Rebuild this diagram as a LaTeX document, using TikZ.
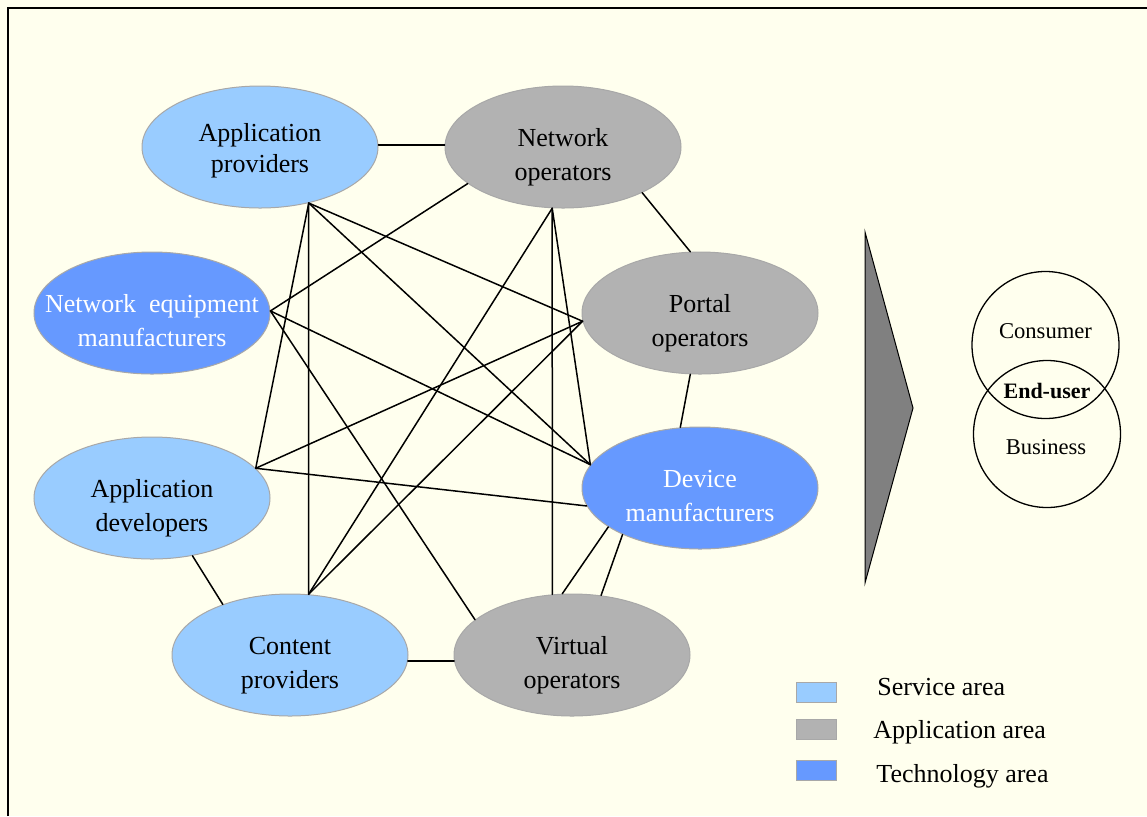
\documentclass[tikz,border=0pt]{standalone}
\usepackage{fontspec}
\setmainfont{Liberation Serif}
\usetikzlibrary{shapes.geometric}

\definecolor{paper}{HTML}{FFFFEE}
\definecolor{svcblue}{HTML}{99CCFF}
\definecolor{appgray}{HTML}{B2B2B2}
\definecolor{techblue}{HTML}{6699FF}
\definecolor{rim}{HTML}{A8A8A8}
\definecolor{wedge}{HTML}{808080}

\begin{document}
\begin{tikzpicture}[x=0.5pt,y=-0.5pt,
  actor/.style={ellipse,draw=rim,line width=0.5pt,minimum width=118pt,
    minimum height=61pt,inner sep=0pt},
  svc/.style={actor,fill=svcblue},
  appl/.style={actor,fill=appgray},
  tech/.style={actor,fill=techblue},
  caption/.style={align=center,inner sep=0pt,font=\fontsize{13}{17}\selectfont},
  lowered/.style={caption,yshift=-4.8pt},
  link/.style={line width=0.75pt,line cap=round},
  swatch/.style={rectangle,draw=rim,line width=0.5pt,minimum width=20pt,
    minimum height=10pt,inner sep=0pt},
  keytext/.style={anchor=base west,inner sep=0pt,font=\fontsize{13}{15}\selectfont},
  market/.style={circle,draw=black,line width=0.65pt,minimum size=73.5pt,inner sep=0pt},
  marketlabel/.style={anchor=base,inner sep=0pt,font=\fontsize{11.3}{13}\selectfont}
]
% page and frame
\fill[paper] (0,0) rectangle (1147,816);
\useasboundingbox (0,0) rectangle (1147,816);
\draw[line width=1pt] (7.7,816) -- (7.7,7.7) -- (1147,7.7);

% value-network actors
\node[svc]  (ap)  at (260,147) {};
\node[appl] (no)  at (563,147) {};
\node[tech] (nem) at (152,313) {};
\node[appl] (po)  at (700,313) {};
\node[svc]  (ad)  at (152,498) {};
\node[tech] (dm)  at (700,488) {};
\node[svc]  (cp)  at (290,655) {};
\node[appl] (vo)  at (572,655) {};

\node[caption,font=\fontsize{13}{15.5}\selectfont,yshift=-1.65pt] (ap-txt) at (ap.center)
  {\strut Application\\providers\strut};
\node[lowered] (no-txt) at (no.center) {\strut Network\\operators\strut};
\node[lowered,text=white] (nem-txt) at (nem.center)
  {\strut Network\ \ equipment\\manufacturers\strut};
\node[lowered] (po-txt) at (po.center) {\strut Portal\\operators\strut};
\node[lowered] (ad-txt) at (ad.center) {\strut Application\\developers\strut};
\node[lowered,text=white] (dm-txt) at (dm.center) {\strut Device\\manufacturers\strut};
\node[lowered] (cp-txt) at (cp.center) {\strut Content\\providers\strut};
\node[lowered] (vo-txt) at (vo.center) {\strut Virtual\\operators\strut};

% links around the ring
\draw[link] (ap.1) -- (no.179);
\draw[link] (no.-30.9) -- (po.99.3);
\draw[link] (po.-99.3) -- (dm.108.4);
\draw[link] (ad.-55.4) -- (cp.143.9);
\draw[link] (cp.-3) -- (vo.-177);
\draw[link] (dm.-157.4) -- (vo.99.3);
\draw[link] (dm.-149.2) -- (vo.64.6);

% links across the ring
\draw[link] (ap.-49.4) -- (ad.16.5);
\draw[link] (ap.-49.4) -- (cp.73);
\draw[link] (ap.-49.4) -- (dm.168.6);
\draw[link] (ap.-49.4) -- (po.-176.6);
\draw[link] (no.-100.2) -- (vo.108.4);
\draw[link] (no.-100.2) -- (dm.168.6);
\draw[link] (no.-100.2) -- (cp.73);
\draw[link] (no.-159.2) -- (nem.1.5);
\draw[link] (nem.1.5) -- (dm.168.6);
\draw[link] (nem.1.5) -- (vo.160.9);
\draw[link] (po.-176.6) -- (ad.16.5);
\draw[link] (po.-176.6) -- (cp.73);
\draw[link] (ad.16.5) -- (dm.-171.9);

% wedge pointing to the end-user
\filldraw[fill=wedge,draw=black,line width=0.5pt,line join=miter]
  (865,232) -- (913,408) -- (865,583) -- cycle;

% end-user markets
\node[market] (consumer) at (1045.5,345) {};
\node[market] (business) at (1047,434) {};
\node[marketlabel] (consumer-txt) at (1045.5,338) {Consumer};
\node[marketlabel,font=\fontsize{11}{13}\selectfont\bfseries] (enduser-txt) at (1047,398) {End-user};
\node[marketlabel] (business-txt) at (1046,454) {Business};

% legend
\node[swatch,fill=svcblue]  (key-svc)  at (816,692) {};
\node[swatch,fill=appgray]  (key-app)  at (816,729.5) {};
\node[swatch,fill=techblue] (key-tech) at (816,770) {};
\node[keytext] (key-svc-txt)  at (877,695) {Service area};
\node[keytext] (key-app-txt)  at (873,738) {Application area};
\node[keytext] (key-tech-txt) at (876,782) {Technology area};
\end{tikzpicture}
\end{document}
